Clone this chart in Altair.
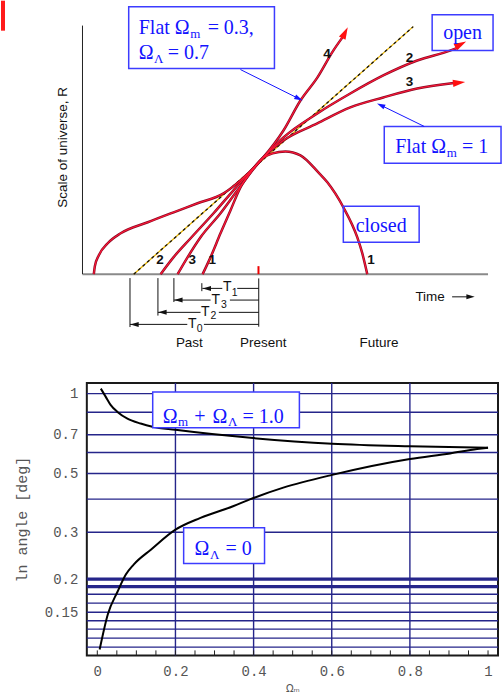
import altair as alt
import pandas as pd

# ================= Top panel: scale of universe R vs time =================
# t: time from today in units of the empty-universe age T0 ; R: scale (today = 1)
curve1_t = [-0.434, -0.372, -0.295, -0.217, -0.140, -0.062, 0.031, 0.109, 0.209, 0.326, 0.465, 0.535, 0.659, 0.767, 0.806, 0.845]
curve1_R = [0.0, 0.147, 0.353, 0.552, 0.750, 0.879, 1.0, 1.043, 1.060, 1.026, 0.879, 0.793, 0.578, 0.319, 0.181, 0.0]
curve2_t = [-0.760, -0.659, -0.527, -0.349, -0.194, 0.031, 0.194, 0.457, 0.713, 0.969, 1.233, 1.488, 1.550]
curve2_R = [0.0, 0.147, 0.310, 0.526, 0.724, 1.0, 1.181, 1.388, 1.560, 1.716, 1.845, 1.931, 1.957]
curve3_t = [-0.628, -0.550, -0.450, -0.295, -0.163, 0.031, 0.194, 0.457, 0.713, 0.969, 1.233, 1.488, 1.550]
curve3_R = [0.0, 0.147, 0.319, 0.526, 0.724, 1.0, 1.155, 1.302, 1.440, 1.526, 1.603, 1.647, 1.655]
curve4_t = [-1.279, -1.271, -1.240, -1.171, -1.070, -0.860, -0.659, -0.473, -0.271, -0.140, 0.031, 0.194, 0.326, 0.457, 0.581, 0.651]
curve4_R = [0.0, 0.069, 0.164, 0.267, 0.353, 0.448, 0.534, 0.612, 0.698, 0.810, 1.0, 1.241, 1.5, 1.698, 1.931, 2.043]
empty_t = [-0.969, 1.202]
empty_R = [0.0, 2.138]

head_t = [0.672, 1.571, 1.558]
head_R = [2.086, 1.984, 1.654]
head_ang = [27, 62, 84]

num_text = ["2", "3", "1", "1", "4", "2", "3"]
num_t = [-0.765, -0.514, -0.359, 0.874, 0.532, 1.173, 1.173]
num_R = [0.121, 0.121, 0.121, 0.121, 1.902, 1.868, 1.658]

axis_t = [-1.367, 1.783]
axis_R = [0.0, 2.147]

# age brackets T1, T3, T2, T0
bv_t = [-0.998, -0.781, -0.657, -0.440, 0.002]
bv_top = [-0.034, -0.034, -0.034, -0.078, -0.037]
bv_bot = [-0.457, -0.358, -0.241, -0.147, -0.454]
row_R = [-0.123, -0.224, -0.330, -0.434]
row_l1 = [-0.436, -0.657, -0.781, -0.998]
row_l2 = [-0.281, -0.372, -0.450, -0.553]
row_r1 = [-0.165, -0.222, -0.308, -0.424]
row_r2 = [0.002, 0.002, 0.002, 0.002]
T_t = [-0.243, -0.331, -0.413, -0.514]
T_R = [-0.112, -0.220, -0.329, -0.435]
Tsub_text = ["1", "3", "2", "0"]
Tsub_t = [-0.186, -0.269, -0.351, -0.457]
Tsub_R = [-0.159, -0.263, -0.364, -0.478]

time_text = ["Past", "Present", "Future", "Time"]
time_t = [-0.537, 0.037, 0.936, 1.333]
time_R = [-0.598, -0.598, -0.598, -0.196]

# annotation boxes
box_t1 = [-1.008, 1.349, 0.977, 0.659]
box_t2 = [0.124, 1.822, 1.884, 1.248]
box_R1 = [2.310, 2.241, 1.276, 0.586]
box_R2 = [1.776, 1.931, 0.957, 0.276]
big_text = ["Flat Ω", "= 0.3,", "Ω", "= 0.7", "Flat Ω", "= 1"]
big_t = [-0.930, -0.395, -0.930, -0.705, 1.062, 1.581]
big_R = [2.078, 2.078, 1.862, 1.862, 1.043, 1.043]
sub_text = ["m", "Λ", "m"]
sub_t = [-0.530, -0.811, 1.462]
sub_R = [2.043, 1.828, 1.009]
ctr_text = ["open", "closed"]
ctr_t = [1.585, 0.953]
ctr_R = [2.034, 0.362]
barrow_t1 = [-0.140, 1.287]
barrow_R1 = [1.767, 1.276]
barrow_t2 = [0.313, 0.950]
barrow_R2 = [1.516, 1.459]
barrow_ang = [116.6, 296.1]

# ================= Bottom panel: angle vs Omega_m =================
flat_om = [0.009, 0.0217, 0.0345, 0.0516, 0.0771, 0.111, 0.141, 0.2, 0.392, 0.601, 0.80, 1.0]
flat_ang = [1.044, 0.972, 0.9045, 0.853, 0.805, 0.771, 0.750, 0.730, 0.681, 0.647, 0.633, 0.625]
open_om = [0.006, 0.027, 0.052, 0.073, 0.093, 0.137, 0.2, 0.264, 0.349, 0.392, 0.476, 0.601, 0.80, 0.903, 0.972, 1.0]
open_ang = [0.1085, 0.1474, 0.1795, 0.208, 0.2267, 0.258, 0.307, 0.340, 0.377, 0.400, 0.442, 0.494, 0.567, 0.595, 0.618, 0.625]
grid_y = [1.0, 0.85, 0.7, 0.6, 0.5, 0.4, 0.3, 0.2, 0.1874, 0.1753, 0.1622, 0.15, 0.1392, 0.1295, 0.1198, 0.1108]
grid_w = [1.4, 1.4, 1.4, 1.4, 1.4, 1.4, 1.4, 3.2, 3.2, 1.4, 1.4, 1.4, 1.4, 1.4, 1.4, 1.4]
grid_x = [0.2, 0.4, 0.6, 0.8]
label_y = [1, 0.7, 0.5, 0.3, 0.2, 0.15]
x_ticks = [0, 0.2, 0.4, 0.6, 0.8, 1.0]
minor_x = [0, 0.05, 0.1, 0.15, 0.2, 0.25, 0.3, 0.35, 0.4, 0.45, 0.5, 0.55, 0.6, 0.65, 0.7, 0.75, 0.8, 0.85, 0.9, 0.95, 1.0]
bbox_x1 = [0.1418, 0.221]
bbox_x2 = [0.5172, 0.428]
bbox_y1 = [1.0148, 0.3124]
bbox_y2 = [0.743, 0.2287]
bbig_text = ["Ω", "+", "Ω", "= 1.0", "Ω", "= 0"]
bbig_x = [0.1673, 0.2478, 0.2950, 0.3716, 0.2490, 0.3282]
bbig_y = [0.776, 0.776, 0.776, 0.776, 0.2472, 0.2472]
bsub_text = ["m", "Λ", "Λ"]
bsub_x = [0.2066, 0.3344, 0.2884]
bsub_y = [0.7556, 0.7556, 0.2388]

# ---------------- styles ----------------
BLUE_T = "#1414ff"
BLUE_B = "#3c3cff"
NAVY = "#25258a"
SANS = "Liberation Sans"
SERIF = "Liberation Serif"
MONO = "Liberation Mono"
HEAD = "M0,-1L0.6,1L-0.6,1Z"

TX = alt.Scale(domain=[-1.3333, 1.8605], nice=False, zero=False)
TY = alt.Scale(domain=[-0.75, 2.362], nice=False, zero=False)


def X(f):
    return alt.X(f, type="quantitative", scale=TX, axis=None)


def Y(f):
    return alt.Y(f, type="quantitative", scale=TY, axis=None)


def C(d):
    return alt.Chart(pd.DataFrame(d))


rows = []
for name, ts, rs in [("1", curve1_t, curve1_R), ("2", curve2_t, curve2_R),
                     ("3", curve3_t, curve3_R), ("4", curve4_t, curve4_R)]:
    for i, (t, r) in enumerate(zip(ts, rs)):
        rows.append({"curve": name, "i": i, "t": t, "R": r})
curves_df = pd.DataFrame(rows)

top_layers = [
    C({"t1": [-2.0], "t2": [-1.969], "r1": [2.362], "r2": [2.103]}).mark_rect(color="#ff1a1a").encode(
        x=X("t1"), x2="t2", y=Y("r1"), y2="r2"),
    C({"t1": [axis_t[0]], "t2": [axis_t[1]], "r": [0.0]}).mark_rule(color="#8a8a8a", strokeWidth=2).encode(
        x=X("t1"), x2="t2", y=Y("r")),
    C({"t": [axis_t[0]], "r1": [axis_R[0]], "r2": [axis_R[1]]}).mark_rule(color="#222222", strokeWidth=1).encode(
        x=X("t"), y=Y("r1"), y2="r2"),
    C({"t": [0.0], "r1": [0.0], "r2": [0.069]}).mark_rule(color="#ee0000", strokeWidth=2).encode(
        x=X("t"), y=Y("r1"), y2="r2"),
    # age brackets
    C({"t": bv_t, "r1": bv_top, "r2": bv_bot}).mark_rule(color="#111111", strokeWidth=1).encode(
        x=X("t"), y=Y("r1"), y2="r2"),
    C({"t1": row_l1, "t2": row_l2, "r": row_R}).mark_rule(color="#111111", strokeWidth=1).encode(
        x=X("t1"), x2="t2", y=Y("r")),
    C({"t1": row_r1, "t2": row_r2, "r": row_R}).mark_rule(color="#111111", strokeWidth=1).encode(
        x=X("t1"), x2="t2", y=Y("r")),
    C({"t": [v + 0.035 for v in row_l1], "r": row_R}).mark_point(
        shape=HEAD, filled=True, size=70, color="#111111", opacity=1, angle=270).encode(x=X("t"), y=Y("r")),
    C({"t": T_t, "r": T_R, "s": ["T"] * 4}).mark_text(font=SANS, fontSize=14, color="#111111",
                                                     baseline="middle").encode(x=X("t"), y=Y("r"), text="s:N"),
    C({"t": Tsub_t, "r": Tsub_R, "s": Tsub_text}).mark_text(font=SANS, fontSize=10.5, color="#111111",
                                                           baseline="middle").encode(x=X("t"), y=Y("r"), text="s:N"),
    C({"t": time_t, "r": time_R, "s": time_text}).mark_text(font=SANS, fontSize=13.5, color="#111111",
                                                           baseline="middle").encode(x=X("t"), y=Y("r"), text="s:N"),
    C({"t1": [1.504], "t2": [1.645], "r": [-0.196]}).mark_rule(color="#111111", strokeWidth=1).encode(
        x=X("t1"), x2="t2", y=Y("r")),
    C({"t": [1.647], "r": [-0.196]}).mark_point(shape=HEAD, filled=True, size=70, color="#111111",
                                                opacity=1, angle=90).encode(x=X("t"), y=Y("r")),
    # empty-universe dashed line
    C({"t": empty_t, "R": empty_R}).mark_line(color="#e8b400", strokeWidth=1.3).encode(x=X("t"), y=Y("R")),
    C({"t": empty_t, "R": empty_R}).mark_line(color="#111111", strokeWidth=1.3, strokeDash=[3, 3]).encode(
        x=X("t"), y=Y("R")),
    # curves
    alt.Chart(curves_df).mark_line(color="#8c0a26", strokeWidth=2.5, interpolate="monotone").encode(
        x=X("t"), y=Y("R"), detail="curve:N", order="i:Q"),
    alt.Chart(curves_df).mark_line(color="#ff1836", strokeWidth=1.1, interpolate="monotone").encode(
        x=X("t"), y=Y("R"), detail="curve:N", order="i:Q"),
    C({"t": head_t, "r": head_R, "a": head_ang}).mark_point(shape=HEAD, filled=True, size=150,
                                                           color="#ff1010", opacity=1).encode(
        x=X("t"), y=Y("r"), angle=alt.Angle("a:Q", scale=None)),
    C({"t": num_t, "r": num_R, "s": num_text}).mark_text(font=SANS, fontSize=13.5, fontWeight="bold",
                                                        color="#111111", baseline="middle").encode(
        x=X("t"), y=Y("r"), text="s:N"),
    # annotations
    C({"t1": box_t1, "t2": box_t2, "r1": box_R1, "r2": box_R2}).mark_rect(
        filled=False, stroke=BLUE_B, strokeWidth=1.5).encode(x=X("t1"), x2="t2", y=Y("r1"), y2="r2"),
    C({"t1": barrow_t1, "t2": barrow_t2, "r1": barrow_R1, "r2": barrow_R2}).mark_rule(
        color=BLUE_T, strokeWidth=1).encode(x=X("t1"), x2="t2", y=Y("r1"), y2="r2"),
    C({"t": barrow_t2, "r": barrow_R2, "a": barrow_ang}).mark_point(shape=HEAD, filled=True, size=70,
                                                                   color=BLUE_T, opacity=1).encode(
        x=X("t"), y=Y("r"), angle=alt.Angle("a:Q", scale=None)),
    C({"t": big_t, "r": big_R, "s": big_text}).mark_text(font=SERIF, fontSize=20, color=BLUE_T, align="left",
                                                        baseline="alphabetic").encode(x=X("t"), y=Y("r"), text="s:N"),
    C({"t": sub_t, "r": sub_R, "s": sub_text}).mark_text(font=SERIF, fontSize=13, color=BLUE_T, align="left",
                                                        baseline="alphabetic").encode(x=X("t"), y=Y("r"), text="s:N"),
    C({"t": ctr_t, "r": ctr_R, "s": ctr_text}).mark_text(font=SERIF, fontSize=20, color=BLUE_T, align="center",
                                                        baseline="alphabetic").encode(x=X("t"), y=Y("r"), text="s:N"),
    C({"t": [-1.519], "r": [1.095], "s": ["Scale of universe, R"]}).mark_text(
        font=SANS, fontSize=13.5, color="#111111", angle=270, baseline="middle").encode(
        x=X("t"), y=Y("r"), text="s:N"),
]
top = alt.layer(*top_layers).properties(width=412, height=361)

# ---------------- bottom panel ----------------
XDOM = [-0.0268, 1.0255]
YDOM = [0.1031, 1.097]
BX = alt.Scale(domain=XDOM, nice=False, zero=False)
BY = alt.Scale(type="log", domain=YDOM, nice=False)

YAX = alt.Axis(
    values=label_y, grid=False, format="~g", ticks=False, domain=False, labelOverlap=False,
    labelFont=MONO, labelFontSize=14, labelColor="#555555", labelPadding=9,
    title="ln angle [deg]", titleFont=MONO, titleFontSize=15, titleFontWeight="normal",
    titleColor="#555555", titlePadding=15)
XAX = alt.Axis(
    values=x_ticks, grid=False, format="~g", ticks=False, domain=False, labelFlush=False,
    labelFont=MONO, labelFontSize=14, labelColor="#555555", labelPadding=9,
    title="Ωₘ", titleFont="DejaVu Sans", titleFontSize=10, titleFontWeight="normal",
    titleColor="#555555", titlePadding=5)

brows = []
for name, xs, ys in [("flat", flat_om, flat_ang), ("open", open_om, open_ang)]:
    for i, (a, b) in enumerate(zip(xs, ys)):
        brows.append({"curve": name, "i": i, "om": a, "ang": b})
bdf = pd.DataFrame(brows)


# later layers leave the axis unspecified so that they merge into the explicit one
def BXe(f):
    return alt.X(f, type="quantitative", scale=BX)


def BYe(f):
    return alt.Y(f, type="quantitative", scale=BY)


bottom_layers = [
    C({"g": grid_y, "w": grid_w, "x1": [XDOM[0]] * len(grid_y), "x2": [XDOM[1]] * len(grid_y)}).mark_rule(
        color=NAVY).encode(x=alt.X("x1:Q", scale=BX, axis=XAX), x2="x2",
                           y=alt.Y("g:Q", scale=BY, axis=YAX),
                           strokeWidth=alt.StrokeWidth("w:Q", scale=None)),
    C({"g": grid_x, "y1": [YDOM[0]] * 4, "y2": [YDOM[1]] * 4}).mark_rule(color=NAVY, strokeWidth=1.4).encode(
        x=BXe("g"), y=BYe("y1"), y2="y2"),
    alt.Chart(bdf).mark_line(color="#000000", strokeWidth=2, interpolate="monotone").encode(
        x=BXe("om"), y=BYe("ang"), detail="curve:N", order="i:Q"),
    C({"om": minor_x}).mark_rule(color="#222222", strokeWidth=1).encode(
        x=BXe("om"), y=alt.value(273), y2=alt.value(268)),
    C({"x1": bbox_x1, "x2": bbox_x2, "y1": bbox_y1, "y2": bbox_y2}).mark_rect(
        fill="white", stroke=BLUE_B, strokeWidth=1.5).encode(x=BXe("x1"), x2="x2", y=BYe("y1"), y2="y2"),
    C({"x": bbig_x, "y": bbig_y, "s": bbig_text}).mark_text(font=SERIF, fontSize=20, color=BLUE_T, align="left",
                                                           baseline="alphabetic").encode(x=BXe("x"), y=BYe("y"), text="s:N"),
    C({"x": bsub_x, "y": bsub_y, "s": bsub_text}).mark_text(font=SERIF, fontSize=13, color=BLUE_T, align="left",
                                                           baseline="alphabetic").encode(x=BXe("x"), y=BYe("y"), text="s:N"),
]
bottom = alt.layer(*bottom_layers).properties(
    width=412, height=273, view=alt.ViewBackground(stroke="#1a1a1a", strokeWidth=2))

chart = alt.vconcat(top, bottom, spacing=20, padding=0, background="white").configure_view(strokeWidth=0)
chart.save("out.html", embed_options={"renderer": "svg", "actions": False})
